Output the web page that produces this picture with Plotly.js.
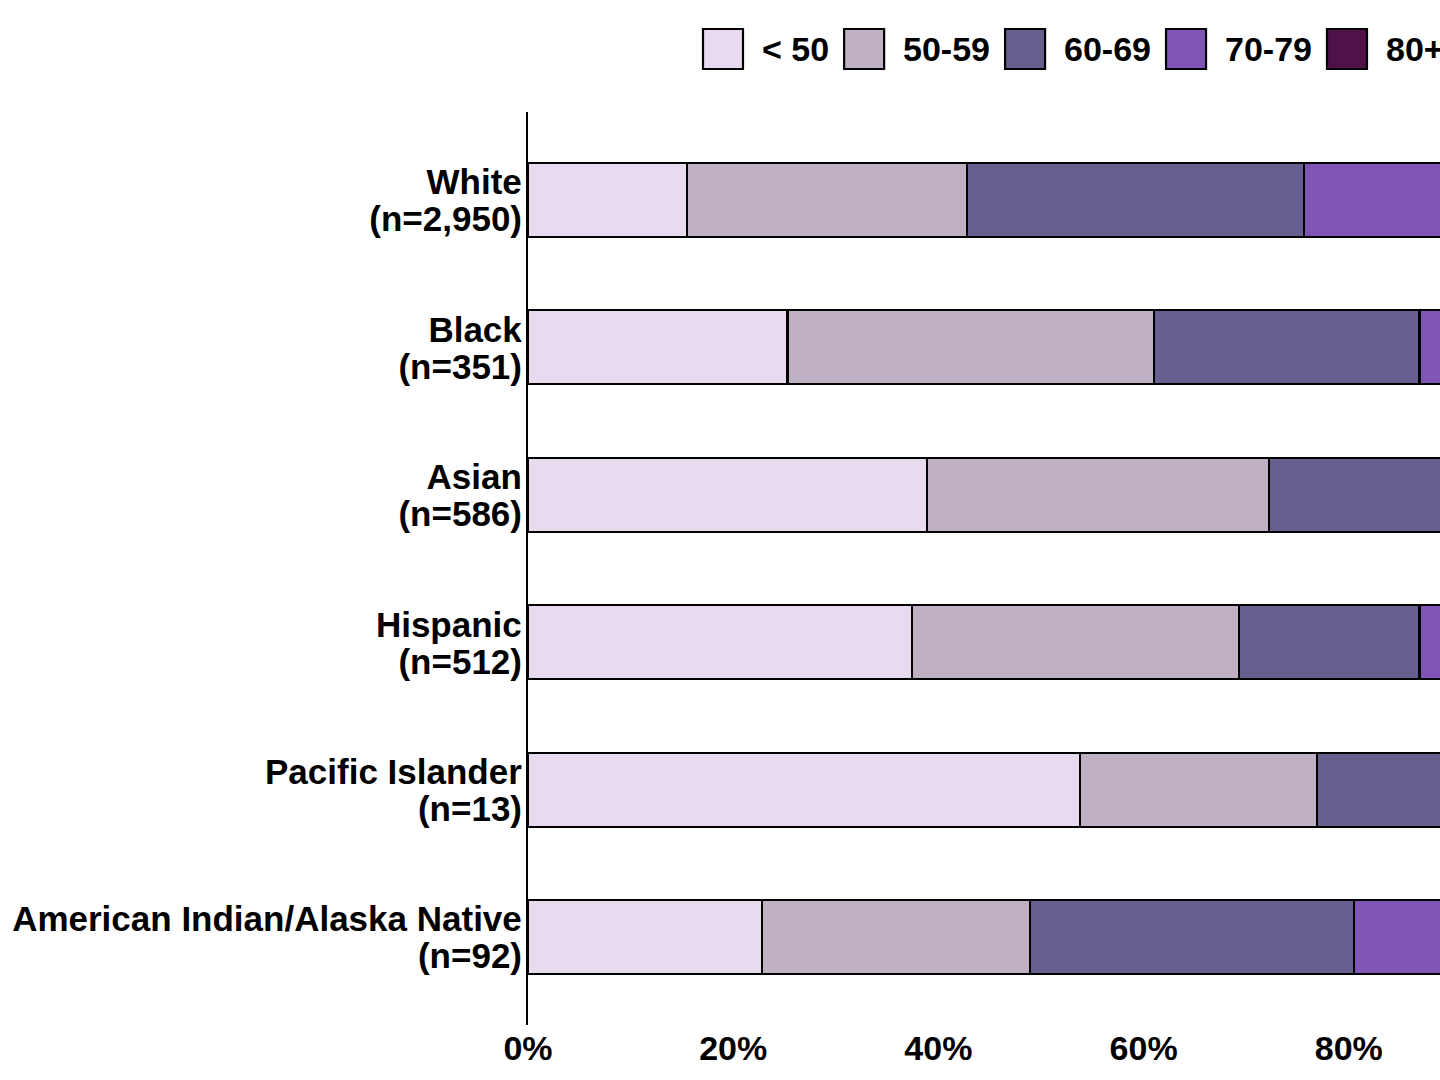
<!DOCTYPE html>
<html>
<head>
<meta charset="utf-8">
<script src="https://cdn.plot.ly/plotly-3.0.1.min.js"></script>
<style>
html,body{margin:0;padding:0;overflow:hidden;background:#fff;width:1440px;height:1080px;}
#chart{width:1600px;height:1080px;}
</style>
</head>
<body>
<div id="chart"></div>
<script>
// ---- data ----
const categories = [
  "White",
  "Black",
  "Asian",
  "Hispanic",
  "Pacific Islander",
  "American Indian/Alaska Native"
];
const sampleSizes = ["(n=2,950)", "(n=351)", "(n=586)", "(n=512)", "(n=13)", "(n=92)"];
const seriesNames = ["< 50", "50-59", "60-69", "70-79", "80+"];
const under50 = [15.5, 25.3, 38.9, 37.4, 53.8, 22.8];
const age5059 = [27.3, 35.7, 33.3, 31.9, 23.1, 26.1];
const age6069 = [32.8, 25.9, 20.0, 17.6, 15.4, 31.6];
const age7079 = [19.0, 10.9, 6.1, 10.2, 7.7, 16.3];
const age80p  = [5.4, 2.2, 1.7, 2.9, 0.0, 3.2];
const xTickVals = [0, 20, 40, 60, 80, 100];
const xTickText = ["0%", "20%", "40%", "60%", "80%", "100%"];

const seriesValues = [under50, age5059, age6069, age7079, age80p];
const colors = ["#e9dbef", "#bfb0c3", "#67608f", "#8155b5", "#4e1148"];

// ---- layout constants ----
const W = 1600, H = 1080;
const ML = 528, MR = 46, MT = 112, MB = 55;
const PW = W - ML - MR, PH = H - MT - MB;
const FONT = "Liberation Sans, Arial, Helvetica, sans-serif";
const labelFont = { family: FONT, size: 35, weight: "bold", color: "#000" };

const traces = seriesNames.map((name, i) => ({
  type: "bar",
  orientation: "h",
  name: name,
  y: categories,
  x: seriesValues[i],
  width: 0.5,
  marker: { color: colors[i], line: { color: "#000", width: 2.2 } },
  showlegend: false,
  hoverinfo: "x+name"
}));
// invisible helper trace that carries the second label line axis
traces.push({
  type: "scatter", mode: "markers", x: categories.map(() => 0), y: categories.map((c, i) => i),
  yaxis: "y2", marker: { opacity: 0 }, showlegend: false, hoverinfo: "skip"
});

// custom legend (large boxes)
const cv = document.createElement("canvas").getContext("2d");
cv.font = "bold 34px 'Liberation Sans'";
const shapes = [], annotations = [];
const px2x = p => (p - ML) / PW;
const py2y = p => (H - MB - p) / PH;
let lx = 703;
const boxSize = 40, boxTop = 29, legendMid = 49;
seriesNames.forEach((name, i) => {
  shapes.push({
    type: "rect", xref: "paper", yref: "paper",
    x0: px2x(lx), x1: px2x(lx + boxSize),
    y0: py2y(boxTop + boxSize), y1: py2y(boxTop),
    fillcolor: colors[i], line: { color: "#000", width: 2.2 }
  });
  const tx = lx + boxSize + 17;
  annotations.push({
    xref: "paper", yref: "paper", x: px2x(tx), y: py2y(legendMid),
    xanchor: "left", yanchor: "middle", showarrow: false, text: name,
    font: { family: FONT, size: 34, weight: "bold", color: "#000" }
  });
  lx = tx + cv.measureText(name).width + 17;
});

const layout = {
  width: W, height: H,
  margin: { l: ML, r: MR, t: MT, b: MB, pad: 0 },
  paper_bgcolor: "#fff", plot_bgcolor: "#fff",
  barmode: "stack",
  showlegend: false,
  xaxis: {
    range: [0, 100], tickvals: xTickVals, ticktext: xTickText,
    showgrid: false, zeroline: false, showline: false, ticks: "",
    tickfont: { family: FONT, size: 34, weight: "bold", color: "#000" },
    ticklabelstandoff: 0
  },
  yaxis: {
    type: "category", categoryorder: "array", categoryarray: categories,
    range: [5.595, -0.595],
    showgrid: false, zeroline: false, showline: true, linecolor: "#000", linewidth: 2.2,
    ticks: "", tickfont: labelFont, ticklabelshift: 18, ticklabelstandoff: -3
  },
  yaxis2: {
    type: "linear", overlaying: "y", side: "left", anchor: "x",
    range: [5.595, -0.595], tickvals: categories.map((c, i) => i), ticktext: sampleSizes,
    showgrid: false, zeroline: false, showline: false, ticks: "",
    tickfont: labelFont, ticklabelshift: -19, ticklabelstandoff: 5
  },
  shapes: shapes,
  annotations: annotations
};

Plotly.newPlot("chart", traces, layout, { displayModeBar: false, staticPlot: true });
</script>
</body>
</html>
